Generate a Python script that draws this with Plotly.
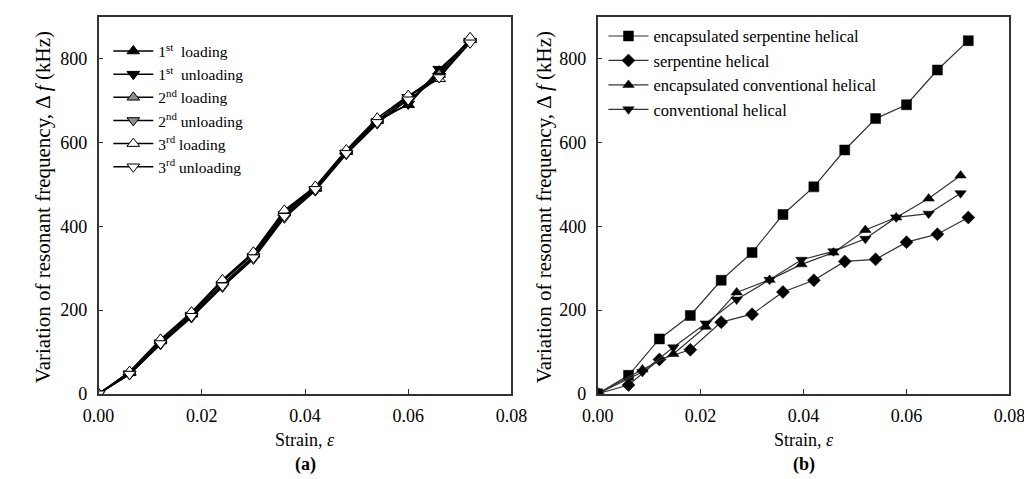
import plotly.graph_objects as go

# ---------------- data ----------------
strain_a = [0, 0.006, 0.012, 0.018, 0.024, 0.030, 0.036, 0.042, 0.048, 0.054, 0.060, 0.066, 0.072]
load1 = [0, 50, 128, 192, 268, 333, 432, 490, 578, 655, 690, 770, 845]
unload1 = [0, 48, 122, 188, 262, 328, 428, 486, 575, 650, 692, 775, 842]
load2 = [0, 52, 126, 190, 270, 336, 435, 492, 580, 652, 710, 762, 848]
unload2 = [0, 46, 118, 182, 255, 322, 420, 485, 572, 645, 708, 758, 840]
load3 = [0, 53, 130, 195, 272, 338, 438, 495, 582, 658, 712, 752, 850]
unload3 = [0, 47, 120, 185, 258, 325, 424, 488, 574, 648, 702, 755, 838]

strain_b1 = [0, 0.006, 0.012, 0.018, 0.024, 0.030, 0.036, 0.042, 0.048, 0.054, 0.060, 0.066, 0.072]
enc_serp = [0, 44, 131, 187, 271, 337, 428, 494, 582, 657, 690, 773, 843]
serp = [0, 21, 82, 105, 171, 190, 243, 271, 316, 321, 362, 381, 421]
strain_b2 = [0, 0.0087, 0.0147, 0.021, 0.027, 0.0334, 0.0396, 0.0458, 0.052, 0.058, 0.0643, 0.0705]
enc_conv = [0, 58, 95, 160, 242, 272, 309, 337, 391, 421, 466, 521]
conv = [0, 52, 111, 168, 225, 272, 320, 340, 370, 421, 430, 479]

x_ticks = [0, 0.02, 0.04, 0.06, 0.08]
x_ticklabels = ["0.00", "0.02", "0.04", "0.06", "0.08"]
y_ticks = [0, 200, 400, 600, 800]

FONT = "Liberation Serif, Times New Roman, serif"

fig = go.Figure()

# ---------------- panel (a) ----------------
a_series = [
    ("1<sup>st</sup>  loading", load1, "triangle-up", "black"),
    ("1<sup>st</sup>  unloading", unload1, "triangle-down", "black"),
    ("2<sup>nd</sup> loading", load2, "triangle-up", "#8c8c8c"),
    ("2<sup>nd</sup> unloading", unload2, "triangle-down", "#8c8c8c"),
    ("3<sup>rd</sup> loading", load3, "triangle-up", "white"),
    ("3<sup>rd</sup> unloading", unload3, "triangle-down", "white"),
]
for name, vals, sym, col in a_series:
    fig.add_trace(go.Scatter(
        x=strain_a, y=vals, name=name, mode="lines+markers",
        line=dict(color="black", width=1.5),
        marker=dict(symbol=sym, size=11, color=col, line=dict(color="black", width=1)),
        xaxis="x", yaxis="y", legend="legend",
    ))

# ---------------- panel (b) ----------------
b_series = [
    ("encapsulated serpentine helical", strain_b1, enc_serp, "square"),
    ("serpentine helical", strain_b1, serp, "diamond"),
    ("encapsulated conventional helical", strain_b2, enc_conv, "triangle-up"),
    ("conventional helical", strain_b2, conv, "triangle-down"),
]
for name, xs, vals, sym in b_series:
    fig.add_trace(go.Scatter(
        x=xs, y=vals, name=name, mode="lines+markers",
        line=dict(color="#333333", width=1.2),
        marker=dict(symbol=sym, size=10, color="black", line=dict(color="black", width=0.5)),
        xaxis="x2", yaxis="y2", legend="legend2",
    ))

axis_common = dict(
    showgrid=False, zeroline=False, showline=True, mirror=True,
    linecolor="#333333", linewidth=1.5, ticks="inside", ticklen=5, tickwidth=1.2,
    tickcolor="#333333", tickfont=dict(family=FONT, size=18, color="black"),
)

ydom = [1 - 394 / 479, 1 - 9 / 479]
fig.update_layout(
    width=1032, height=479,
    margin=dict(l=0, r=0, t=0, b=0),
    paper_bgcolor="white", plot_bgcolor="white",
    font=dict(family=FONT, size=16, color="black"),
    xaxis=dict(axis_common, domain=[77 / 1032, 503 / 1032], range=[0, 0.08],
               tickvals=x_ticks, ticktext=x_ticklabels, anchor="y", ticklabelstandoff=5),
    yaxis=dict(axis_common, domain=ydom, range=[0, 900], tickvals=y_ticks, anchor="x",
               ticklabelstandoff=6),
    xaxis2=dict(axis_common, domain=[592 / 1032, 1017 / 1032], range=[0, 0.08],
                tickvals=x_ticks, ticktext=x_ticklabels, anchor="y2", ticklabelstandoff=5),
    yaxis2=dict(axis_common, domain=ydom, range=[0, 900], tickvals=y_ticks, anchor="x2",
                ticklabelstandoff=6),
    legend=dict(x=87 / 1032, y=1 - 27 / 479, xanchor="left", yanchor="top",
                bgcolor="rgba(0,0,0,0)", font=dict(family=FONT, size=15.5),
                tracegroupgap=0, itemwidth=40),
    legend2=dict(x=598 / 1032, y=1 - 11 / 479, xanchor="left", yanchor="top",
                 bgcolor="rgba(0,0,0,0)", font=dict(family=FONT, size=16.5),
                 tracegroupgap=0, itemwidth=40),
    showlegend=True,
)

annots = [
    dict(x=290 / 1032, y=1 - 441 / 479, text="Strain, <i>ε</i>", size=18),
    dict(x=805 / 1032, y=1 - 441 / 479, text="Strain, <i>ε</i>", size=18),
    dict(x=290 / 1032, y=1 - 466 / 479, text="<b>(a)</b>", size=18),
    dict(x=805 / 1032, y=1 - 466 / 479, text="<b>(b)</b>", size=18),
    dict(x=19 / 1032, y=1 - 203 / 479, text="Variation of resonant frequency, Δ <i>f</i> (kHz)",
         textangle=-90, size=21),
    dict(x=536 / 1032, y=1 - 203 / 479, text="Variation of resonant frequency, Δ <i>f</i> (kHz)",
         textangle=-90, size=21),
]
for a in annots:
    size = a.pop("size")
    fig.add_annotation(xref="paper", yref="paper", showarrow=False,
                       xanchor="center", yanchor="middle",
                       font=dict(family=FONT, size=size, color="black"), **a)

fig.write_html("out.html")
